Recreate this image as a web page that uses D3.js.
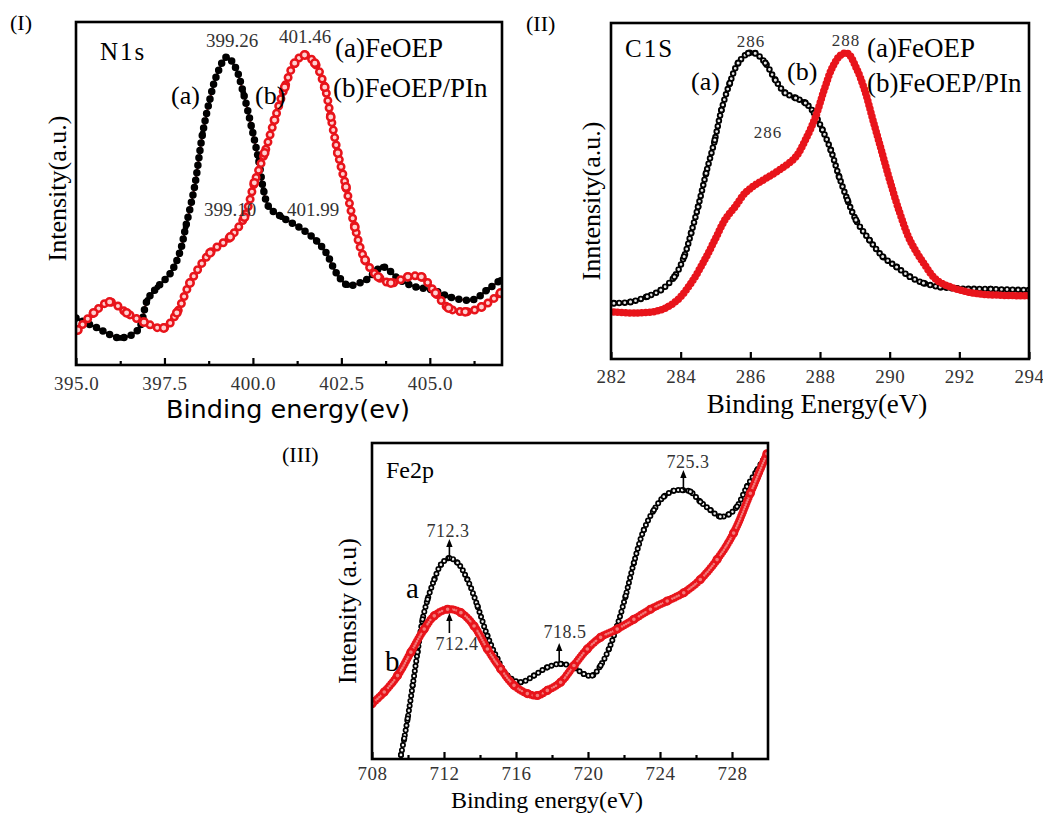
<!DOCTYPE html>
<html>
<head>
<meta charset="utf-8">
<script src="https://cdn.jsdelivr.net/npm/d3@7"></script>
<style>
  body { margin: 0; background: #fff; }
  svg { display: block; }
  .serif { font-family: "Liberation Serif", "Times New Roman", serif; }
  .tick text { font-family: "Liberation Serif", serif; font-size: 19px; fill: #333; letter-spacing: 0.5px; }
  .tick line { stroke: #000; stroke-width: 2.2; }
</style>
</head>
<body>
<div id="chart"></div>
<script>
// ---- data (intensity in arbitrary units, 0..100 of the frame) ----
const n1sEnergyA = [395.0,395.6,396.25,396.75,397.02,397.3,397.67,397.93,398.1,398.35,398.58,398.78,398.96,399.26,399.5,399.73,399.96,400.16,400.3,400.45,400.82,401.3,401.78,402.07,402.36,402.68,403.2,403.67,404.15,404.63,405.08,405.57,406.22,406.62,407.0];
const n1sIntensityA = [13.7,10.8,7.9,10.2,19.0,22.7,26.8,32.7,40.2,51.9,67.6,77.3,84.0,89.8,86.9,79.3,69.4,59.8,51.0,46.1,43.1,40.2,36.4,32.7,26.8,23.3,24.8,28.6,24.8,22.7,21.9,19.8,19.0,21.9,24.8];
const n1sEnergyB = [395.05,395.5,395.95,396.43,396.92,397.48,397.85,398.22,398.79,399.36,399.76,400.04,400.33,400.61,400.9,401.18,401.46,401.75,402.03,402.2,402.4,402.63,402.88,403.17,403.54,403.9,404.38,404.76,405.16,405.53,406.0,406.46,407.0];
const n1sIntensityB = [10.2,15.2,18.4,15.2,12.5,10.8,15.2,23.9,32.7,37.3,43.1,53.1,61.8,71.4,81.0,88.0,90.4,88.0,81.0,72.3,61.8,51.9,40.2,30.6,25.7,23.9,25.7,25.7,21.0,16.6,15.5,16.9,21.0];

const c1sEnergyA = [282.08,282.56,283.04,283.43,283.82,284.1,284.3,284.5,284.73,284.98,285.17,285.41,285.65,285.94,286.14,286.43,286.72,287.0,287.3,287.58,287.83,288.07,288.31,288.55,288.79,289.03,289.42,289.8,290.2,290.58,290.97,291.45,291.93,292.9,294.0];
const c1sIntensityA = [16.6,17.0,18.6,20.5,24.5,30.5,37.5,45.3,55.3,65.2,74.1,82.1,88.1,91.0,91.0,88.1,83.0,79.2,77.7,76.2,73.2,68.2,62.2,54.2,47.3,41.4,35.4,30.5,27.4,24.5,22.6,21.4,21.0,20.8,20.5];
const c1sEnergyB = [282.08,282.75,283.43,283.91,284.3,284.69,284.98,285.27,285.56,285.85,286.14,286.52,286.91,287.3,287.58,287.87,288.12,288.36,288.6,288.79,289.03,289.28,289.52,289.76,290.0,290.29,290.58,290.97,291.35,291.84,292.42,293.09,294.0];
const c1sIntensityB = [14.0,13.7,14.6,17.6,22.6,29.5,35.4,41.4,45.3,49.4,51.8,54.2,56.8,60.1,65.2,72.0,80.1,86.9,90.5,91.0,86.9,80.1,71.1,62.2,53.3,43.5,35.4,28.6,23.5,21.1,19.6,19.0,18.8];

const fe2pEnergyA = [709.61,709.79,709.98,710.26,710.53,710.81,711.09,711.46,711.83,712.29,712.75,713.3,713.86,714.41,714.97,715.52,716.26,717.0,717.74,718.48,719.22,719.77,720.24,720.7,721.16,721.62,722.09,722.55,723.1,723.66,724.21,724.77,725.23,725.69,726.24,726.8,727.35,727.82,728.28,728.83,729.39,729.94];
const fe2pIntensityA = [1.3,6.5,12.8,23.3,33.8,44.2,50.5,56.8,61.5,63.6,62.1,56.8,48.4,39.0,31.7,26.4,24.3,26.4,29.0,30.1,29.0,26.9,26.4,29.6,34.8,42.1,51.6,62.1,72.5,78.8,83.0,84.9,85.1,84.6,81.4,78.8,76.7,77.4,79.9,86.2,91.4,96.6];
const fe2pEnergyB = [708.0,708.68,709.42,710.16,710.9,711.46,712.2,712.94,713.67,714.41,715.15,715.89,716.63,717.19,717.74,718.48,719.22,719.96,720.7,721.62,722.55,723.47,724.4,725.32,726.24,727.17,728.09,729.02,729.94];
const fe2pIntensityB = [17.5,21.2,26.4,33.8,41.1,45.3,47.4,46.3,42.1,34.8,28.5,23.3,20.7,20.1,21.7,24.3,29.6,34.8,38.5,41.1,44.2,47.4,50.0,52.6,56.8,63.1,71.5,84.1,96.6];

const n1sTicks = [395, 397.5, 400, 402.5, 405];
const n1sMinor = [396.25, 398.75, 401.25, 403.75, 406.25];
const c1sTicks = [282, 284, 286, 288, 290, 292, 294];
const fe2pTicks = [708, 712, 716, 720, 724, 728];
const fe2pMinor = [710, 714, 718, 722, 726];

const red = "#e8141b";

const svg = d3.select("#chart").append("svg")
  .attr("width", 1043)
  .attr("height", 814);

svg.append("defs").append("marker")
  .attr("id", "arrow")
  .attr("viewBox", "0 0 10 10")
  .attr("refX", 5).attr("refY", 5)
  .attr("markerWidth", 5).attr("markerHeight", 5)
  .attr("orient", "auto")
  .append("path")
  .attr("d", "M0,1 L10,5 L0,9 Z")
  .attr("fill", "#000");

function zip(xs, ys) {
  return xs.map((x, i) => [x, ys[i]]);
}

function drawPanel(p) {
  const x = d3.scaleLinear().domain(p.domain).range([p.left, p.right]);
  const y = d3.scaleLinear().domain([0, 100]).range([p.bottom, p.top]);
  const g = svg.append("g");

  const clipId = "clip-" + p.id;
  g.append("clipPath").attr("id", clipId)
    .append("rect")
    .attr("x", p.left).attr("y", p.top)
    .attr("width", p.right - p.left).attr("height", p.bottom - p.top);

  const line = d3.line()
    .x((d) => x(d[0]))
    .y((d) => y(d[1]))
    .curve(d3.curveCatmullRom);

  const plot = g.append("g").attr("clip-path", `url(#${clipId})`);

  p.series.forEach((s) => {
    const data = zip(s.xs, s.ys);
    const d = line(data);

    // thin connecting line sits under the symbols
    if (s.line) {
      plot.append("path")
        .attr("d", d)
        .attr("fill", "none")
        .attr("stroke", s.line)
        .attr("stroke-width", s.lineWidth);
    }

    // beaded marker line: dotted stroke with round caps, like closely packed symbols
    plot.append("path")
      .attr("d", d)
      .attr("fill", "none")
      .attr("stroke", s.bead)
      .attr("stroke-width", s.beadSize)
      .attr("stroke-linecap", "round")
      .attr("stroke-dasharray", `0 ${s.gap}`);
    if (s.inner) {
      plot.append("path")
        .attr("d", d)
        .attr("fill", "none")
        .attr("stroke", s.inner)
        .attr("stroke-width", s.innerSize)
        .attr("stroke-linecap", "round")
        .attr("stroke-dasharray", `0 ${s.gap}`);
    }

    plot.selectAll(null)
      .data(data)
      .enter()
      .append("circle")
      .attr("cx", (d) => x(d[0]))
      .attr("cy", (d) => y(d[1]))
      .attr("r", s.beadSize / 2 - 0.8)
      .attr("fill", s.inner || s.bead)
      .attr("stroke", s.bead)
      .attr("stroke-width", s.inner ? (s.beadSize - s.innerSize) / 2 : 0);
  });

  // frame
  g.append("rect")
    .attr("x", p.left).attr("y", p.top)
    .attr("width", p.right - p.left).attr("height", p.bottom - p.top)
    .attr("fill", "none")
    .attr("stroke", "#000")
    .attr("stroke-width", 2.6);

  const axis = g.append("g")
    .attr("transform", `translate(0,${p.bottom})`)
    .call(d3.axisBottom(x).tickValues(p.ticks).tickFormat(p.format)
      .tickSizeInner(-7).tickSizeOuter(0).tickPadding(p.pad));
  axis.select(".domain").remove();

  if (p.minor) {
    const minorAxis = g.append("g")
      .attr("transform", `translate(0,${p.bottom})`)
      .call(d3.axisBottom(x).tickValues(p.minor).tickFormat("")
        .tickSizeInner(-4).tickSizeOuter(0));
    minorAxis.select(".domain").remove();
  }

  g.append("text")
    .attr("transform", `translate(${p.yLabelX},${(p.top + p.bottom) / 2 + p.yLabelShift}) rotate(-90)`)
    .attr("text-anchor", "middle")
    .attr("class", "serif")
    .style("font-size", "26px")
    .text(p.yLabel);

  g.append("text")
    .attr("x", (p.left + p.right) / 2 + p.xLabelShift)
    .attr("y", p.xLabelY)
    .attr("text-anchor", "middle")
    .style("font-family", p.xLabelFont)
    .style("font-size", p.xLabelSize)
    .text(p.xLabel);

  p.notes.forEach((n) => {
    g.append("text")
      .attr("x", n.x).attr("y", n.y)
      .attr("text-anchor", n.anchor || "start")
      .attr("class", "serif")
      .style("font-size", n.size + "px")
      .style("fill", n.color || "#000")
      .style("letter-spacing", n.spacing || "0px")
      .text(n.text);
  });

  (p.arrows || []).forEach((a) => {
    g.append("line")
      .attr("x1", x(a.at)).attr("x2", x(a.at))
      .attr("y1", a.y1).attr("y2", a.y2)
      .attr("stroke", "#000")
      .attr("stroke-width", 1.6)
      .attr("marker-end", "url(#arrow)");
  });
}

drawPanel({
  id: "n1s",
  left: 76, right: 502, top: 22, bottom: 365,
  domain: [395, 407.04],
  ticks: n1sTicks, minor: n1sMinor, format: d3.format(".1f"), pad: 12,
  yLabel: "Intensity(a.u.)", yLabelX: 66, yLabelShift: -5,
  xLabel: "Binding energy(ev)", xLabelY: 418, xLabelShift: -1,
  xLabelFont: "'DejaVu Sans', sans-serif", xLabelSize: "25.5px",
  series: [
    {xs: n1sEnergyA, ys: n1sIntensityA, bead: "#000", beadSize: 7.5, gap: 7.5,
     line: red, lineWidth: 1.8},
    {xs: n1sEnergyB, ys: n1sIntensityB, bead: red, beadSize: 9, gap: 7.5,
     inner: "#ffd0d0", innerSize: 4}
  ],
  notes: [
    {text: "(I)", x: 10, y: 30, size: 22},
    {text: "N1s", x: 100, y: 60, size: 25, spacing: "2px"},
    {text: "399.26", x: 232, y: 47, size: 19, anchor: "middle", color: "#333"},
    {text: "401.46", x: 305, y: 43, size: 19, anchor: "middle", color: "#333"},
    {text: "(a)FeOEP", x: 335, y: 57, size: 27},
    {text: "(b)FeOEP/PIn", x: 333, y: 97, size: 27},
    {text: "(a)", x: 171, y: 104, size: 26},
    {text: "(b)", x: 255, y: 104, size: 26},
    {text: "399.10", x: 204, y: 216, size: 19, color: "#333"},
    {text: "401.99", x: 287, y: 216, size: 19, color: "#333"}
  ]
});

drawPanel({
  id: "c1s",
  left: 611, right: 1029, top: 23, bottom: 359,
  domain: [282, 294],
  ticks: c1sTicks, format: d3.format("d"), pad: 11,
  yLabel: "Inntensity(a.u.)", yLabelX: 600, yLabelShift: 10,
  xLabel: "Binding Energy(eV)", xLabelY: 413, xLabelShift: -3,
  xLabelFont: "'Liberation Serif', serif", xLabelSize: "27px",
  series: [
    {xs: c1sEnergyA, ys: c1sIntensityA, bead: "#000", beadSize: 6.5, gap: 5.5,
     inner: "#e6e6e6", innerSize: 2.8},
    {xs: c1sEnergyB, ys: c1sIntensityB, bead: red, beadSize: 7.5, gap: 4}
  ],
  notes: [
    {text: "(II)", x: 526, y: 31, size: 22},
    {text: "C1S", x: 625, y: 57, size: 25, spacing: "2px"},
    {text: "286", x: 751, y: 47, size: 17, anchor: "middle", color: "#333", spacing: "1px"},
    {text: "288", x: 846, y: 46, size: 17, anchor: "middle", color: "#333", spacing: "1px"},
    {text: "(a)FeOEP", x: 867, y: 57, size: 27},
    {text: "(b)FeOEP/PIn", x: 867, y: 92, size: 27},
    {text: "(a)", x: 691, y: 90, size: 26},
    {text: "(b)", x: 787, y: 80, size: 26},
    {text: "286", x: 768, y: 138, size: 17, anchor: "middle", color: "#333", spacing: "1px"}
  ]
});

drawPanel({
  id: "fe2p",
  left: 372, right: 768, top: 443, bottom: 759,
  domain: [708, 730],
  ticks: fe2pTicks, minor: fe2pMinor, format: d3.format("d"), pad: 8,
  yLabel: "Intensity (a.u)", yLabelX: 356, yLabelShift: 10,
  xLabel: "Binding energy(eV)", xLabelY: 808, xLabelShift: -23,
  xLabelFont: "'Liberation Serif', serif", xLabelSize: "24px",
  series: [
    {xs: fe2pEnergyA, ys: fe2pIntensityA, bead: "#000", beadSize: 6, gap: 5,
     inner: "#eeeeee", innerSize: 2.6},
    {xs: fe2pEnergyB, ys: fe2pIntensityB, bead: red, beadSize: 8, gap: 2.5,
     inner: "#f27a7a", innerSize: 2.5}
  ],
  arrows: [
    {at: 712.3, y1: 560, y2: 543},
    {at: 712.3, y1: 633, y2: 617},
    {at: 718.4, y1: 662, y2: 647},
    {at: 725.3, y1: 490, y2: 474}
  ],
  notes: [
    {text: "(III)", x: 282, y: 462, size: 22},
    {text: "Fe2p", x: 386, y: 478, size: 24},
    {text: "712.3", x: 448, y: 537, size: 18, anchor: "middle", color: "#333", spacing: "0.5px"},
    {text: "712.4", x: 457, y: 650, size: 18, anchor: "middle", color: "#333", spacing: "0.5px"},
    {text: "718.5", x: 565, y: 638, size: 18, anchor: "middle", color: "#333", spacing: "0.5px"},
    {text: "725.3", x: 688, y: 468, size: 18, anchor: "middle", color: "#333", spacing: "0.5px"},
    {text: "a", x: 406, y: 598, size: 29},
    {text: "b", x: 385, y: 671, size: 29}
  ]
});
</script>
</body>
</html>
